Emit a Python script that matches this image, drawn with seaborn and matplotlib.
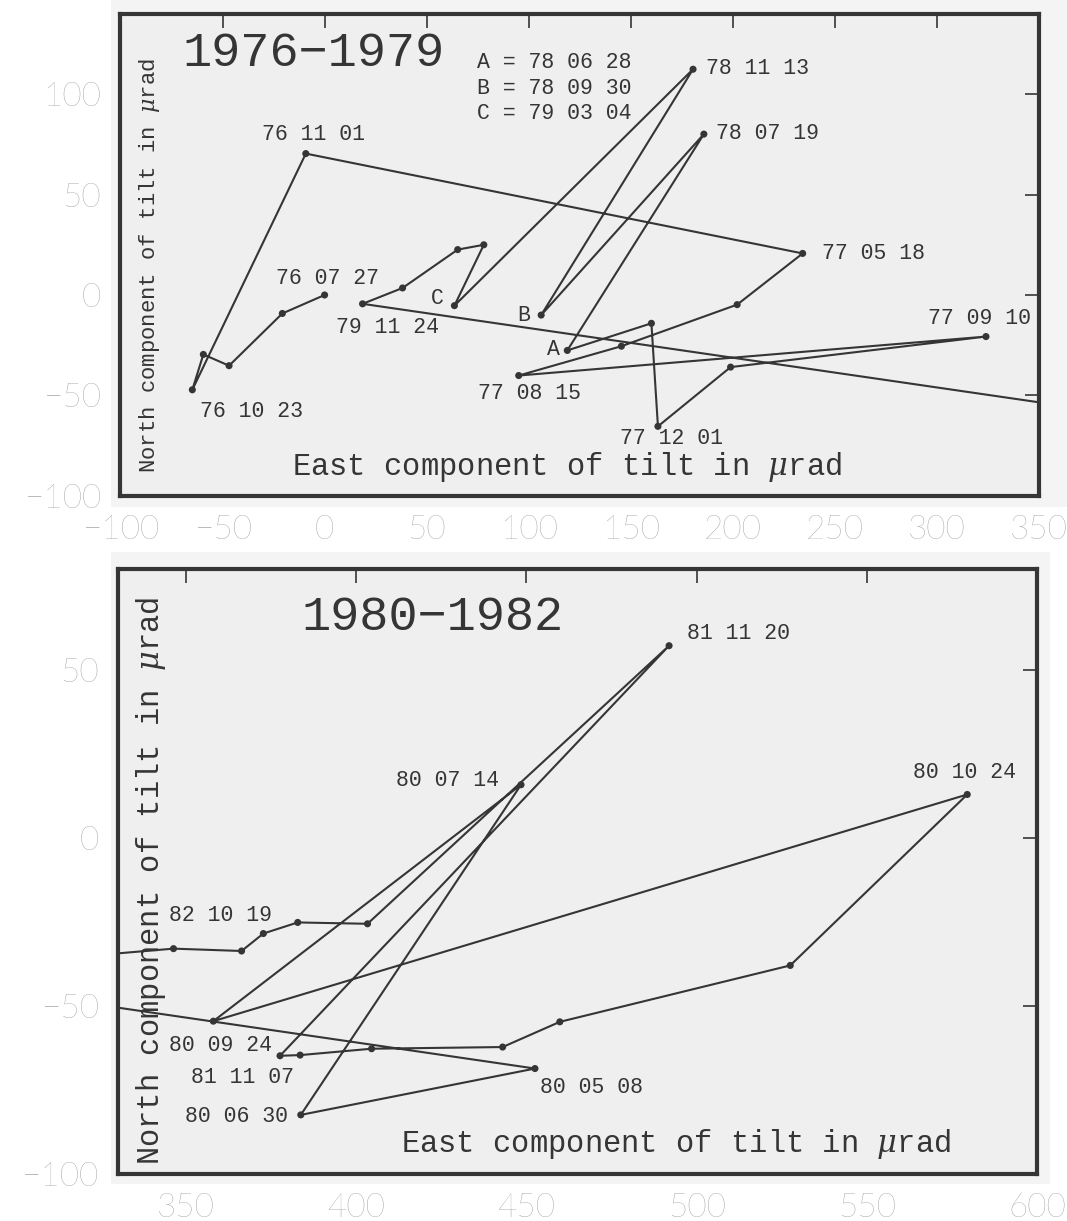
import matplotlib
matplotlib.use("Agg")
import matplotlib.pyplot as plt
import matplotlib.patches as mpatches
import pandas as pd
import seaborn as sns

# ---------------------------------------------------------------------------
# Tilt vectors (east, north) in microradians.
# 1976-1979 epoch; the final entry is the first 1980 reading (80 05 08).
east_1976 = [0.0, -20.7, -46.8, -59.4, -64.8, -9.2, 234.2, 202.1, 145.4, 95.1,
             324.0, 198.9, 163.3, 160.1, 118.9, 185.8, 106.1, 180.5, 63.6, 78.0,
             65.2, 38.2, 18.6, 452.5]
north_1976 = [0.0, -9.2, -35.2, -29.6, -47.2, 70.4, 20.7, -4.8, -25.5, -40.1,
              -20.7, -35.9, -65.4, -14.1, -27.6, 80.1, -10.0, 112.4, -5.3, 25.0,
              22.6, 3.5, -4.4, -68.6]
labels_1976 = ["76 07 27", "", "", "", "76 10 23", "76 11 01", "77 05 18", "", "",
               "77 08 15", "77 09 10", "", "77 12 01", "", "A", "78 07 19", "B",
               "78 11 13", "C", "", "", "", "79 11 24", ""]

# 1980-1982 epoch; first entry is the last 1979 reading (79 11 24),
# last entry is the reading that follows 82 10 19.
east_1980 = [18.6, 452.5, 383.7, 448.4, 358.0, 579.5, 527.5, 459.8, 443.0, 404.5,
             383.5, 377.6, 491.9, 403.3, 382.8, 372.7, 366.3, 346.3, 280.0]
north_1980 = [-4.4, -68.6, -82.4, 15.9, -54.5, 13.0, -37.9, -54.7, -62.2, -62.7,
              -64.6, -64.8, 57.3, -25.5, -25.1, -28.4, -33.6, -32.9, -38.6]
labels_1980 = ["", "80 05 08", "80 06 30", "80 07 14", "80 09 24", "80 10 24", "",
               "", "", "", "", "81 11 07", "81 11 20", "", "", "", "", "82 10 19", ""]

key_lines = ["A = 78 06 28", "B = 78 09 30", "C = 79 03 04"]

ticks_top_x = [-100, -50, 0, 50, 100, 150, 200, 250, 300, 350]
ticks_top_y = [-100, -50, 0, 50, 100]
ticks_bot_x = [350, 400, 450, 500, 550, 600]
ticks_bot_y = [-100, -50, 0, 50]

# ---------------------------------------------------------------------------
# Label placement: offset in pixels from the point and horizontal alignment.
label_offsets = {
    "76 11 01": (8, 19, "center"), "76 07 27": (3, 16, "center"),
    "76 10 23": (59, -22, "center"), "79 11 24": (25, -24, "center"),
    "C": (-17, 7, "center"), "B": (-17, 0, "center"), "A": (-14, 1, "center"),
    "77 08 15": (11, -18, "center"), "77 12 01": (14, -12, "center"),
    "77 09 10": (-6, 18, "center"), "77 05 18": (19, 0, "left"),
    "78 11 13": (13, 1, "left"), "78 07 19": (12, 1, "left"),
    "81 11 20": (18, 12, "left"), "80 07 14": (-22, 4, "right"),
    "80 10 24": (-3, 22, "center"), "82 10 19": (47, 33, "center"),
    "80 09 24": (7, -24, "center"), "81 11 07": (-38, -22, "center"),
    "80 06 30": (-13, -2, "right"), "80 05 08": (5, -19, "left"),
}

INK = "#353535"
PAPER = "#efefef"
TICKLABEL = "#8a8a8a"
MONO = "Liberation Mono"

sns.set_style("white")
plt.rcParams["font.family"] = [MONO, "DejaVu Sans"]
plt.rcParams["mathtext.fontset"] = "dejavuserif"

fig = plt.figure(figsize=(10.67, 12.21), dpi=100)
fig.patch.set_facecolor("white")

# scanned-sheet backgrounds behind each panel
for rect in [(0.104, 0.585, 0.896, 0.415), (0.104, 0.030, 0.880, 0.518)]:
    fig.add_artist(mpatches.Rectangle(rect[:2], rect[2], rect[3], transform=fig.transFigure,
                                      facecolor="#f4f4f4", edgecolor="none", zorder=-10))

ax_top = fig.add_axes([0.1129, 0.5939, 0.8609, 0.3948])
ax_bot = fig.add_axes([0.1106, 0.0385, 0.8613, 0.4951])


def draw_panel(ax, east, north, labels, xlim, ylim, xticks, yticks):
    df = pd.DataFrame({"east": east, "north": north})
    sns.lineplot(data=df, x="east", y="north", sort=False, estimator=None,
                 color=INK, linewidth=1.5, ax=ax, zorder=3)
    sns.scatterplot(data=df, x="east", y="north", color=INK, s=26,
                    edgecolor="none", ax=ax, zorder=4)
    for e, n, lab in zip(east, north, labels):
        if not lab:
            continue
        dx, dy, ha = label_offsets[lab]
        ax.annotate(lab, (e, n), xytext=(dx, dy), textcoords="offset pixels",
                    ha=ha, va="center", fontsize=15.5, color=INK,
                    family=[MONO, "DejaVu Sans"], zorder=5, annotation_clip=False)
    ax.set_xlim(*xlim)
    ax.set_ylim(*ylim)
    ax.set_xticks(xticks)
    ax.set_yticks(yticks)
    ax.set_facecolor(PAPER)
    ax.set_xlabel("")
    ax.set_ylabel("")
    for sp in ax.spines.values():
        sp.set_visible(True)
        sp.set_color(INK)
        sp.set_linewidth(3.0)
    ax.tick_params(axis="both", which="major", direction="in", length=10, width=1.2,
                   color=INK, top=True, right=True, labelcolor=TICKLABEL,
                   labelsize=24, pad=14)
    for lbl in ax.get_xticklabels() + ax.get_yticklabels():
        lbl.set_fontfamily(["Lato", "DejaVu Sans"])
        lbl.set_fontweight("light")


draw_panel(ax_top, east_1976, north_1976, labels_1976, (-100, 350), (-100, 140),
           ticks_top_x, ticks_top_y)
draw_panel(ax_bot, east_1980, north_1980, labels_1980, (330, 600), (-100, 80),
           ticks_bot_x, ticks_bot_y)

# panel titles
ax_top.text(0.21, 0.917, "1976\u22121979", transform=ax_top.transAxes, ha="center",
            va="center", fontsize=35, color=INK, family=[MONO, "DejaVu Sans"])
ax_bot.text(0.342, 0.92, "1980\u22121982", transform=ax_bot.transAxes, ha="center",
            va="center", fontsize=35, color=INK, family=[MONO, "DejaVu Sans"])

# key for the lettered dates
for i, line in enumerate(key_lines):
    ax_top.text(0.388, 0.899 - i * 0.0533, line, transform=ax_top.transAxes,
                ha="left", va="center", fontsize=15.5, color=INK)

# axis captions drawn inside the frames
ax_top.text(0.486, 0.06, r"East component of tilt in $\mu$rad", transform=ax_top.transAxes,
            ha="center", va="center", fontsize=22, color=INK)
ax_top.text(0.032, 0.477, r"North component of tilt in $\mu$rad", transform=ax_top.transAxes,
            ha="center", va="center", rotation=90, fontsize=16, color=INK)
ax_bot.text(0.607, 0.05, r"East component of tilt in $\mu$rad", transform=ax_bot.transAxes,
            ha="center", va="center", fontsize=22, color=INK)
ax_bot.text(0.036, 0.485, r"North component of tilt in $\mu$rad", transform=ax_bot.transAxes,
            ha="center", va="center", rotation=90, fontsize=22, color=INK)

fig.savefig("out.png", dpi=100, facecolor=fig.get_facecolor())
